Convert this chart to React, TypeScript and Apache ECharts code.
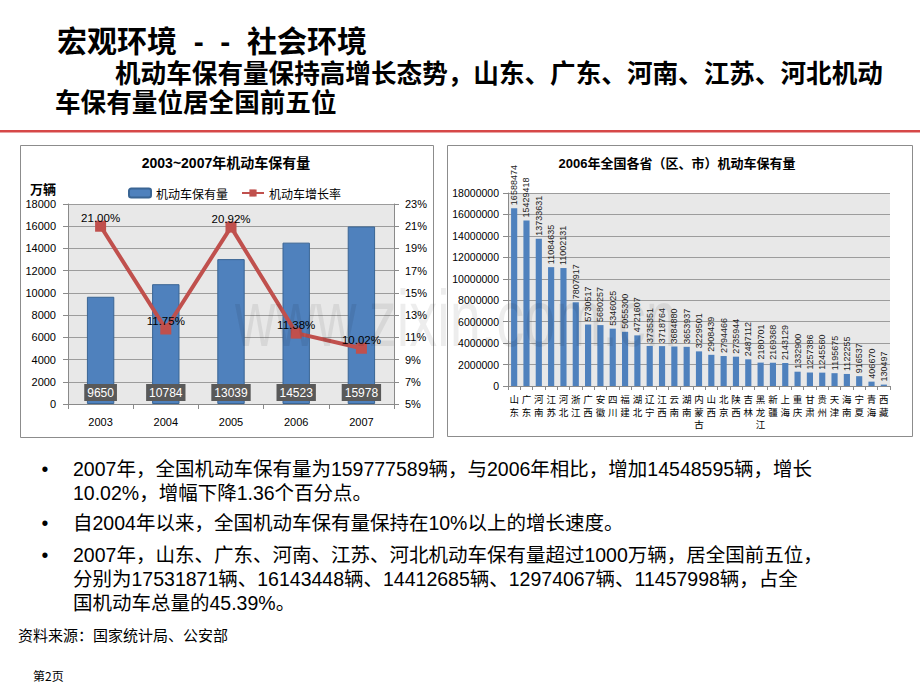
import React, { useEffect, useRef } from 'react';
import * as echarts from 'echarts';

// ---- Data ----
const years = ['2003', '2004', '2005', '2006', '2007'];
const vehicleStock = [9650, 10784, 13039, 14523, 15978]; // 万辆
const growthRate = [21.0, 11.75, 20.92, 11.38, 10.02]; // %
const rateTicks = [5, 7, 9, 11, 13, 15, 17, 19, 21, 23];

const provinces = ['山东', '广东', '河南', '江苏', '河北', '浙江', '广西', '安徽', '四川', '福建', '湖北', '辽宁', '江西', '云南', '湖南', '内蒙古', '山西', '北京', '陕西', '吉林', '黑龙江', '新疆', '上海', '重庆', '甘肃', '贵州', '天津', '海南', '宁夏', '青海', '西藏'];
const provinceStock = [16588474, 15429418, 13733631, 11084635, 11002131, 7807917, 5730517, 5680257, 5346025, 5055300, 4721607, 3735351, 3718764, 3684880, 3653937, 3229501, 2908439, 2794466, 2735944, 2487112, 2180701, 2169368, 2143129, 1332900, 1257386, 1245560, 1195675, 1122255, 916537, 406670, 130497];

const headerLines = [
  '宏观环境  -  -  社会环境',
  '机动车保有量保持高增长态势，山东、广东、河南、江苏、河北机动',
  '车保有量位居全国前五位',
];

const bulletLines = [
  { bullet: true, text: '2007年，全国机动车保有量为159777589辆，与2006年相比，增加14548595辆，增长' },
  { bullet: false, text: '10.02%，增幅下降1.36个百分点。' },
  { bullet: true, text: '自2004年以来，全国机动车保有量保持在10%以上的增长速度。' },
  { bullet: true, text: '2007年，山东、广东、河南、江苏、河北机动车保有量超过1000万辆，居全国前五位，' },
  { bullet: false, text: '分别为17531871辆、16143448辆、14412685辆、12974067辆、11457998辆，占全' },
  { bullet: false, text: '国机动车总量的45.39%。' },
];
const sourceNote = '资料来源：国家统计局、公安部';
const pageNote = '第2页';
const watermark = 'www.zixin.com.cn';

const CJK = '"Noto Sans CJK SC", "Noto Sans", sans-serif';
const LAT = '"Liberation Sans", "Noto Sans CJK SC", sans-serif';

function txt(text: string, x: number, y: number, size: number, extra: any = {}) {
  const { weight, align, family, fill, ...rest } = extra;
  return {
    type: 'text',
    x,
    y,
    ...rest,
    style: {
      text,
      fontSize: size,
      fontWeight: weight || 'normal',
      fontFamily: family || CJK,
      fill: fill || '#000',
      textAlign: align || 'left',
      align: align || 'left',
      textVerticalAlign: 'middle',
      verticalAlign: 'middle',
    },
  };
}

function buildOption() {
  const graphics: any[] = [];
  // header
  graphics.push(txt(headerLines[0], 57, 41, 30, { weight: 'bold', family: LAT }));
  graphics.push(txt(headerLines[1], 115, 74, 25.6, { weight: 'bold', family: LAT }));
  graphics.push(txt(headerLines[2], 55, 103, 25.6, { weight: 'bold', family: LAT }));
  graphics.push({ type: 'rect', shape: { x: 0, y: 130, width: 920, height: 2.5 }, style: { fill: '#D64848' } });
  // chart frames
  graphics.push({ type: 'rect', shape: { x: 20.5, y: 145.5, width: 413, height: 292 }, style: { fill: 'none', stroke: '#8c8c8c', lineWidth: 1 } });
  graphics.push({ type: 'rect', shape: { x: 447.5, y: 145.5, width: 465, height: 291 }, style: { fill: 'none', stroke: '#8c8c8c', lineWidth: 1 } });
  // chart titles
  graphics.push(txt('2003~2007年机动车保有量', 226, 163, 14, { weight: 'bold', align: 'center', family: LAT }));
  graphics.push(txt('万辆', 43, 188, 13, { weight: 'bold', align: 'center' }));
  graphics.push(txt('2006年全国各省（区、市）机动车保有量', 677, 163, 13, { weight: 'bold', align: 'center', family: LAT }));
  // bullets
  const ys = [469, 493, 523, 555, 579, 603];
  bulletLines.forEach((l, i) => {
    if (l.bullet) graphics.push(txt('•', 45, ys[i], 19.5, { align: 'center', family: '"Liberation Sans", sans-serif' }));
    graphics.push(txt(l.text, 73, ys[i], 19.5, { family: LAT }));
  });
  graphics.push(txt(sourceNote, 18, 634, 15));
  graphics.push(txt(pageNote, 33, 675, 12));
  // watermark
  graphics.push({
    type: 'text',
    x: 235,
    y: 318,
    scaleX: 0.7,
    z: 100,
    silent: true,
    style: {
      text: watermark,
      fontSize: 80,
      fontFamily: '"Liberation Sans", sans-serif',
      fill: 'rgba(0,0,0,0.07)',
      textAlign: 'left',
      align: 'left',
      textVerticalAlign: 'middle',
      verticalAlign: 'middle',
    },
  });

  const axisLineStyle = { color: '#8a8a8a', width: 1 };
  const plain = (v: number) => String(v);

  return {
    animation: false,
    backgroundColor: '#ffffff',
    textStyle: { fontFamily: LAT },
    legend: {
      data: ['机动车保有量', '机动车增长率'],
      left: 123,
      top: 182,
      itemWidth: 22,
      itemHeight: 9,
      itemGap: 13,
      textStyle: { fontSize: 12, color: '#000', fontFamily: CJK },
    },
    grid: [
      { left: 68, top: 204, width: 326, height: 200, show: true, backgroundColor: '#e8e8e8', borderWidth: 0 },
      { left: 508, top: 193, width: 382, height: 193, show: true, backgroundColor: '#e8e8e8', borderWidth: 0 },
    ],
    xAxis: [
      {
        type: 'category',
        gridIndex: 0,
        data: years,
        axisLine: { lineStyle: axisLineStyle },
        axisTick: { show: true, length: 5, lineStyle: axisLineStyle },
        axisLabel: { color: '#000', fontSize: 11, margin: 12 },
      },
      {
        type: 'category',
        gridIndex: 1,
        data: provinces,
        axisLine: { lineStyle: axisLineStyle },
        axisTick: { show: true, length: 4, lineStyle: axisLineStyle },
        axisLabel: {
          interval: 0,
          color: '#000',
          fontSize: 9.5,
          lineHeight: 12.5,
          margin: 7,
          fontFamily: CJK,
          formatter: (v: string) => v.split('').join('\n'),
        },
      },
    ],
    yAxis: [
      {
        type: 'value',
        gridIndex: 0,
        min: 0,
        max: 18000,
        interval: 2000,
        axisLine: { show: true, lineStyle: axisLineStyle },
        axisTick: { show: true, length: 5, lineStyle: axisLineStyle },
        splitLine: { show: true, lineStyle: { color: '#9c9c9c', width: 1 } },
        axisLabel: { color: '#000', fontSize: 11, margin: 12, formatter: plain },
      },
      {
        type: 'value',
        gridIndex: 0,
        position: 'right',
        min: 5,
        max: 23,
        axisLine: { show: true, lineStyle: axisLineStyle },
        axisTick: { show: true, length: 5, lineStyle: axisLineStyle, customValues: rateTicks },
        splitLine: { show: false },
        axisLabel: { color: '#000', fontSize: 11, margin: 11, customValues: rateTicks, formatter: (v: number) => v + '%' },
      },
      {
        type: 'value',
        gridIndex: 1,
        min: 0,
        max: 18000000,
        interval: 2000000,
        axisLine: { show: true, lineStyle: axisLineStyle },
        axisTick: { show: true, length: 5, lineStyle: axisLineStyle },
        splitLine: { show: true, lineStyle: { color: '#9c9c9c', width: 1 } },
        axisLabel: { color: '#000', fontSize: 10.5, margin: 9, formatter: plain },
      },
    ],
    series: [
      {
        name: '机动车保有量',
        type: 'bar',
        xAxisIndex: 0,
        yAxisIndex: 0,
        data: vehicleStock,
        barWidth: '42%',
        itemStyle: { color: '#4F81BD', borderColor: '#3A6594', borderWidth: 1 },
        label: {
          show: true,
          position: 'insideBottom',
          distance: 3,
          color: '#fff',
          backgroundColor: '#595959',
          padding: [3, 3, 2, 3],
          fontSize: 12,
        },
      },
      {
        name: '机动车增长率',
        type: 'line',
        xAxisIndex: 0,
        yAxisIndex: 1,
        data: growthRate,
        symbol: 'rect',
        symbolSize: 11,
        z: 3,
        lineStyle: { color: '#C0504D', width: 4 },
        itemStyle: { color: '#C0504D' },
        label: {
          show: true,
          position: 'top',
          distance: -3,
          color: '#000',
          fontSize: 11.5,
          formatter: (p: any) => Number(p.value).toFixed(2) + '%',
        },
      },
      {
        name: '2006年机动车保有量',
        type: 'bar',
        xAxisIndex: 1,
        yAxisIndex: 2,
        data: provinceStock,
        barWidth: '50%',
        itemStyle: { color: '#4F81BD' },
        label: {
          show: true,
          position: 'top',
          rotate: 90,
          align: 'left',
          verticalAlign: 'middle',
          distance: 3,
          fontSize: 9,
          color: '#222',
        },
      },
    ],
    graphic: { elements: graphics },
  };
}

export default function App() {
  const ref = useRef<HTMLDivElement>(null);
  useEffect(() => {
    if (!ref.current) return;
    const chart = echarts.init(ref.current, null, { renderer: 'svg' });
    chart.setOption(buildOption() as any);
    return () => chart.dispose();
  }, []);
  return (
    <div
      ref={ref}
      style={{ position: 'absolute', left: 0, top: 0, width: 920, height: 690, background: '#fff' }}
    />
  );
}
